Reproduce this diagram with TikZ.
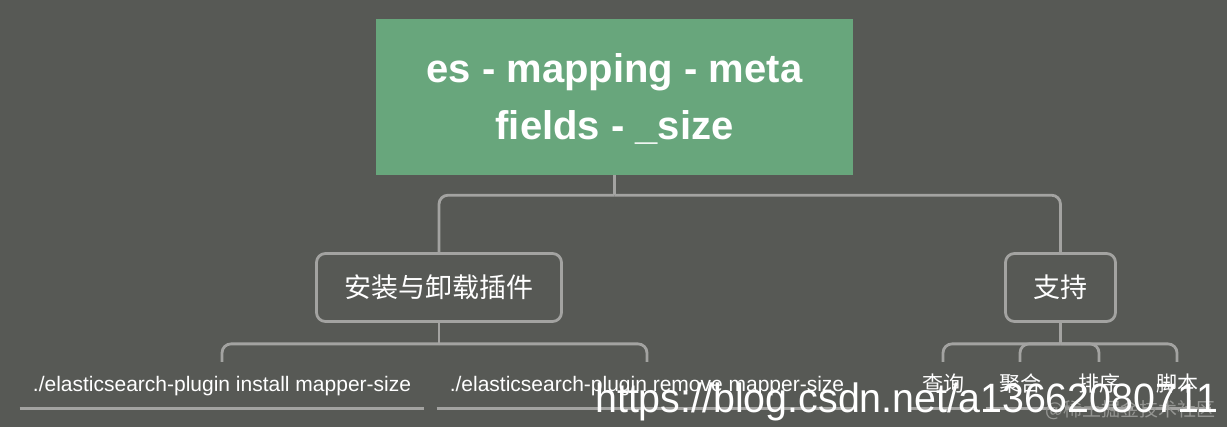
\documentclass[tikz,border=0pt]{standalone}
\usepackage{fontspec}
\setmainfont{Liberation Sans}
\newfontfamily\cjk{Noto Sans CJK SC}
\newfontfamily\markfont[FakeStretch=0.96]{Liberation Sans}
\usetikzlibrary{positioning}
\definecolor{bggray}{HTML}{575955}
\definecolor{rootgreen}{HTML}{68A67C}
\definecolor{linegray}{HTML}{A3A3A1}
\definecolor{markgray}{HTML}{959693}

\begin{document}
\begin{tikzpicture}[
        x=1pt, y=-1pt,
        rootbox/.style={fill=rootgreen, text=white, align=center,
            font=\bfseries\fontsize{40}{57}\selectfont,
            text height=90pt, text depth=4pt,
            minimum width=477pt, minimum height=156pt, inner sep=0pt},
        topic/.style={draw=linegray, line width=2.8pt, rounded corners=9pt,
            text=white, font=\cjk\fontsize{27}{32}\selectfont,
            minimum height=68pt, inner xsep=28pt},
        leaf/.style={text=white, font=\fontsize{21}{25}\selectfont,
            inner xsep=13pt, inner ysep=11pt, text height=19pt, text depth=5pt},
        cjkleaf/.style={leaf, font=\cjk\fontsize{21}{25}\selectfont},
        link/.style={draw=linegray, line width=2.8pt, rounded corners=9pt},
        underline/.style={draw=linegray, line width=3pt}
    ]
    \useasboundingbox (0,0) rectangle (1227,427);
    \fill[bggray] (0,0) rectangle (1227,427);

    \node[rootbox] (root) at (614.5,97) {es - mapping - meta\\fields - \_size};
    \node[topic] (plugin) at (439,287.5) {安装与卸载插件};
    \node[topic] (support) at (1060.5,287.5) {支持};

    \node[leaf] (install) at (222,385) {./elasticsearch-plugin install mapper-size};
    \node[leaf] (remove) at (647,385) {./elasticsearch-plugin remove mapper-size};
    \node[cjkleaf] (query) at (943,385) {查询};
    \node[cjkleaf] (aggs) at (1020,385) {聚合};
    \node[cjkleaf] (sort) at (1099,385) {排序};
    \node[cjkleaf] (script) at (1177,385) {脚本};

    % bus points under each parent
    \coordinate[below=20pt of root.south] (rootbus);
    \coordinate[below=21pt of plugin.south] (pluginbus);
    \coordinate[below=21pt of support.south] (supportbus);

    \draw[link] (root.south) -- (rootbus);
    \foreach \n in {plugin,support}
        \draw[link] (\n.north) |- (rootbus);
    \draw[link] (plugin.south) -- (pluginbus);
    \foreach \n in {install,remove}
        \draw[link] (\n.north) |- (pluginbus);
    \draw[link] (support.south) -- (supportbus);
    \foreach \n in {query,aggs,sort,script}
        \draw[link] (\n.north) |- (supportbus);

    \foreach \n in {install,remove,query,aggs,sort,script}
        \draw[underline] (\n.south west) -- (\n.south east);

    % watermarks
    \node[text=markgray, font=\cjk\fontsize{19}{23}\selectfont, anchor=east,
        inner sep=0pt] (juejin) at (1216,410) {@稀土掘金技术社区};
    \node[text=white, font=\markfont\fontsize{41}{48}\selectfont, anchor=base west,
        inner sep=0pt] (csdn) at (595,413) {https://blog.csdn.net/a13662080711};
\end{tikzpicture}
\end{document}
